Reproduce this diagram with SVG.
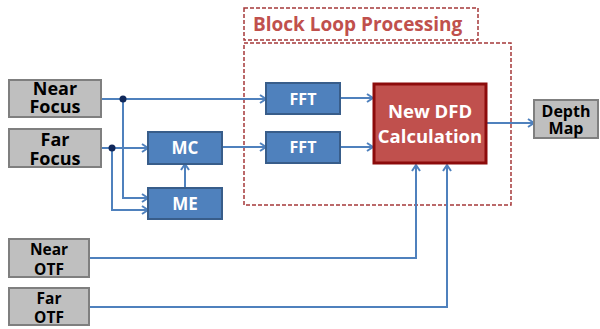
<svg xmlns="http://www.w3.org/2000/svg" width="600" height="329" viewBox="0 0 600 329">
  <style>
    .gray rect { fill: #BFBFBF; stroke: #7F7F7F; stroke-width: 2; }
    .gray text { fill: #000; font-family: "Open Sans", "Liberation Sans", sans-serif; font-weight: bold; text-anchor: middle; }
    .blue rect { fill: #4F81BD; stroke: #385D8A; stroke-width: 2; }
    .blue text { fill: #fff; font-family: "Open Sans", "Liberation Sans", sans-serif; font-weight: bold; text-anchor: middle; }
    .red rect { fill: #C0504D; stroke: #8C0B0B; stroke-width: 3; }
    .red text { fill: #fff; font-family: "Open Sans", "Liberation Sans", sans-serif; font-weight: bold; text-anchor: middle; font-size: 18.5px; }
    .frame { fill: none; stroke: #A5393A; stroke-width: 1.5; stroke-dasharray: 4 2; }
    .title { fill: #C0504D; font-family: "Open Sans", "Liberation Sans", sans-serif; font-weight: bold; font-size: 19px; }
    #connectors path { fill: none; stroke: #4F81BD; stroke-width: 2; }
    #connectors .arr { marker-end: url(#head); }
    .dot { fill: #10285A; }
  </style>
  <defs>
    <marker id="head" markerWidth="10" markerHeight="10" refX="8" refY="5" orient="auto" markerUnits="userSpaceOnUse">
      <path d="M2,1 L8,5 L2,9" fill="none" stroke="#4F81BD" stroke-width="2"/>
    </marker>
  </defs>

  <!-- processing frame -->
  <g id="block-loop">
    <rect class="frame" x="244" y="8" width="234" height="32"/>
    <text class="title" x="253" y="31">Block Loop Processing</text>
    <rect class="frame" x="244" y="43" width="267" height="162"/>
  </g>

  <g id="connectors">
    <path class="arr" d="M101,99 H266"/>
    <path class="arr" d="M123,99 V198 H148"/>
    <path class="arr" d="M101,148 H148"/>
    <path class="arr" d="M112,148 V210 H148"/>
    <path class="arr" d="M185,188 V164"/>
    <path class="arr" d="M222,147 H266"/>
    <path class="arr" d="M340,98 H373"/>
    <path class="arr" d="M340,147 H373"/>
    <path class="arr" d="M487,123 H534"/>
    <path class="arr" d="M89,258 H416 V165"/>
    <path class="arr" d="M89,307 H447 V165"/>
    <circle class="dot" cx="123" cy="99" r="3.5"/>
    <circle class="dot" cx="112" cy="148" r="3.5"/>
  </g>

  <g id="near-focus" class="gray">
    <rect x="9" y="80" width="92" height="37"/>
    <text x="55" y="95" font-size="18">Near</text>
    <text x="55" y="113" font-size="18">Focus</text>
  </g>
  <g id="far-focus" class="gray">
    <rect x="9" y="129" width="92" height="38"/>
    <text x="55" y="146" font-size="18">Far</text>
    <text x="55" y="165" font-size="18">Focus</text>
  </g>
  <g id="near-otf" class="gray">
    <rect x="9" y="239" width="80" height="38"/>
    <text x="49" y="255" font-size="15.5">Near</text>
    <text x="49" y="275" font-size="15.5">OTF</text>
  </g>
  <g id="far-otf" class="gray">
    <rect x="9" y="288" width="80" height="37"/>
    <text x="49" y="304" font-size="15.5">Far</text>
    <text x="49" y="323" font-size="15.5">OTF</text>
  </g>

  <g id="mc" class="blue">
    <rect x="148" y="132" width="74" height="32"/>
    <text x="185" y="154" font-size="17">MC</text>
  </g>
  <g id="me" class="blue">
    <rect x="148" y="188" width="74" height="31"/>
    <text x="185" y="210" font-size="17">ME</text>
  </g>
  <g id="fft-near" class="blue">
    <rect x="266" y="83" width="74" height="31"/>
    <text x="303" y="105" font-size="16">FFT</text>
  </g>
  <g id="fft-far" class="blue">
    <rect x="266" y="132" width="74" height="31"/>
    <text x="303" y="153" font-size="16">FFT</text>
  </g>

  <g id="dfd" class="red">
    <rect x="374" y="84" width="112" height="79"/>
    <text x="430" y="118">New DFD</text>
    <text x="430" y="143">Calculation</text>
  </g>

  <g id="depth-map" class="gray">
    <rect x="534" y="100" width="64" height="38"/>
    <text x="566" y="117" font-size="16">Depth</text>
    <text x="566" y="134" font-size="16">Map</text>
  </g>
</svg>
